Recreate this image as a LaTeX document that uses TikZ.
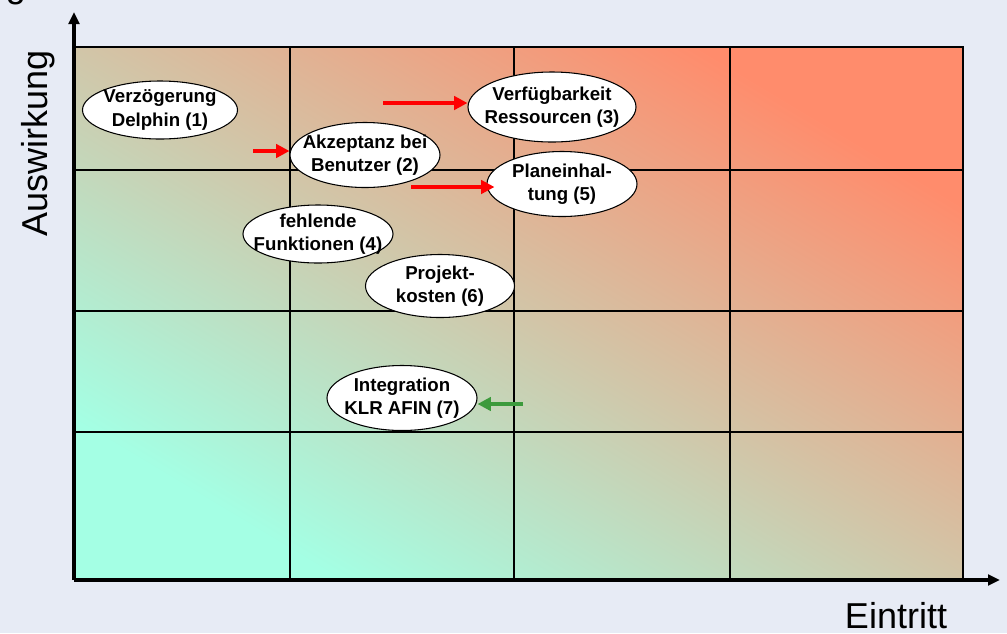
\documentclass[tikz,border=0pt]{standalone}
\usepackage{fontspec}
\setmainfont{Liberation Sans}
\usetikzlibrary{arrows.meta,shapes.geometric}
\definecolor{bg}{RGB}{231,235,245}
\definecolor{cMid}{RGB}{218,210,182}
\definecolor{cTR}{RGB}{255,140,108}
\definecolor{cBL}{RGB}{164,255,228}
\definecolor{arrred}{RGB}{255,0,0}
\definecolor{arrgreen}{RGB}{60,154,60}
\tikzset{
  risk/.style={ellipse, draw=black, line width=0.8pt, fill=white, inner sep=0pt},
  risktext/.style={align=center, inner sep=0pt, font=\bfseries\fontsize{14}{17.5}\selectfont},
  gridline/.style={black, line width=0.9pt},
  axisline/.style={black, line width=2.3pt, -{Triangle[length=9pt,width=8pt]}},
  redarrow/.style={arrred, line width=3pt, -{Triangle[length=10pt,width=10pt]}},
  greenarrow/.style={arrgreen, line width=3pt, -{Triangle[length=10pt,width=10pt]}},
  axislabel/.style={font=\fontsize{27}{32}\selectfont, inner sep=0pt}
}
\begin{document}
\begin{tikzpicture}[x=0.75pt,y=-0.75pt]
\useasboundingbox[fill=bg] (0,0) rectangle (1007,633);
% cut-off title fragment
\node[axislabel, anchor=base] (gfrag) at (16,-3) {g};
% gradient field (diagonal, stretched to the field)
\begin{scope}[transform canvas={shift={(75,580)}, xscale=8.88, yscale=5.33}]
\shade[shading=axis, bottom color=cBL, middle color=cMid, top color=cTR, shading angle=-45] (0,0) rectangle (100,-100);
\end{scope}
% grid
\draw[gridline] (75,47) rectangle (963,580);
\foreach \xx in {290,514,730} \draw[gridline] (\xx,47) -- (\xx,580);
\foreach \yy in {170,311,432} \draw[gridline] (75,\yy) -- (963,\yy);
% axes
\coordinate (origin) at (74,580);
\coordinate (ytip) at (74,12);
\coordinate (xtip) at (1000,580);
\draw[axisline] (origin) -- (ytip);
\draw[axisline] (origin) -- (xtip);
\node[axislabel, rotate=90] (ylab) at (38,143) {Auswirkung};
\node[axislabel, anchor=base] (xlab) at (896,628) {Eintritt};
% risks
\node[risk, minimum width=155*0.75pt, minimum height=58*0.75pt,
  label={[risktext]center:{Verzögerung\\Delphin (1)}}] (e1) at (160,110) {};
\node[risk, minimum width=150*0.75pt, minimum height=65*0.75pt,
  label={[risktext]center:{Akzeptanz bei\\Benutzer (2)}}] (e2) at (365,155) {};
\node[risk, minimum width=168*0.75pt, minimum height=70*0.75pt,
  label={[risktext]center:{Verfügbarkeit\\Ressourcen (3)}}] (e3) at (552,107) {};
\node[risk, minimum width=150*0.75pt, minimum height=65*0.75pt,
  label={[risktext]center:{Planeinhal-\\tung (5)}}] (e5) at (562,184) {};
\node[risk, minimum width=150*0.75pt, minimum height=58*0.75pt,
  label={[risktext]center:{fehlende\\Funktionen (4)}}] (e4) at (318,234) {};
\node[risk, minimum width=149*0.75pt, minimum height=63*0.75pt,
  label={[risktext]center:{Projekt-\\kosten (6)}}] (e6) at (440,286) {};
\node[risk, minimum width=150*0.75pt, minimum height=65*0.75pt,
  label={[risktext]center:{Integration\\KLR AFIN (7)}}] (e7) at (402,398) {};
% trend arrows
\coordinate (a2) at (253,151);
\coordinate (a3) at (383,103);
\coordinate (a5) at (411,187);
\coordinate (a7) at (523,404);
\draw[redarrow] (a2) -- (a2 -| e2.west);
\draw[redarrow] (a3) -- (a3 -| e3.west);
\draw[redarrow, shorten >=-6pt] (a5) -- (a5 -| e5.west);
\draw[greenarrow] (a7) -- (a7 -| e7.east);
\end{tikzpicture}
\end{document}
